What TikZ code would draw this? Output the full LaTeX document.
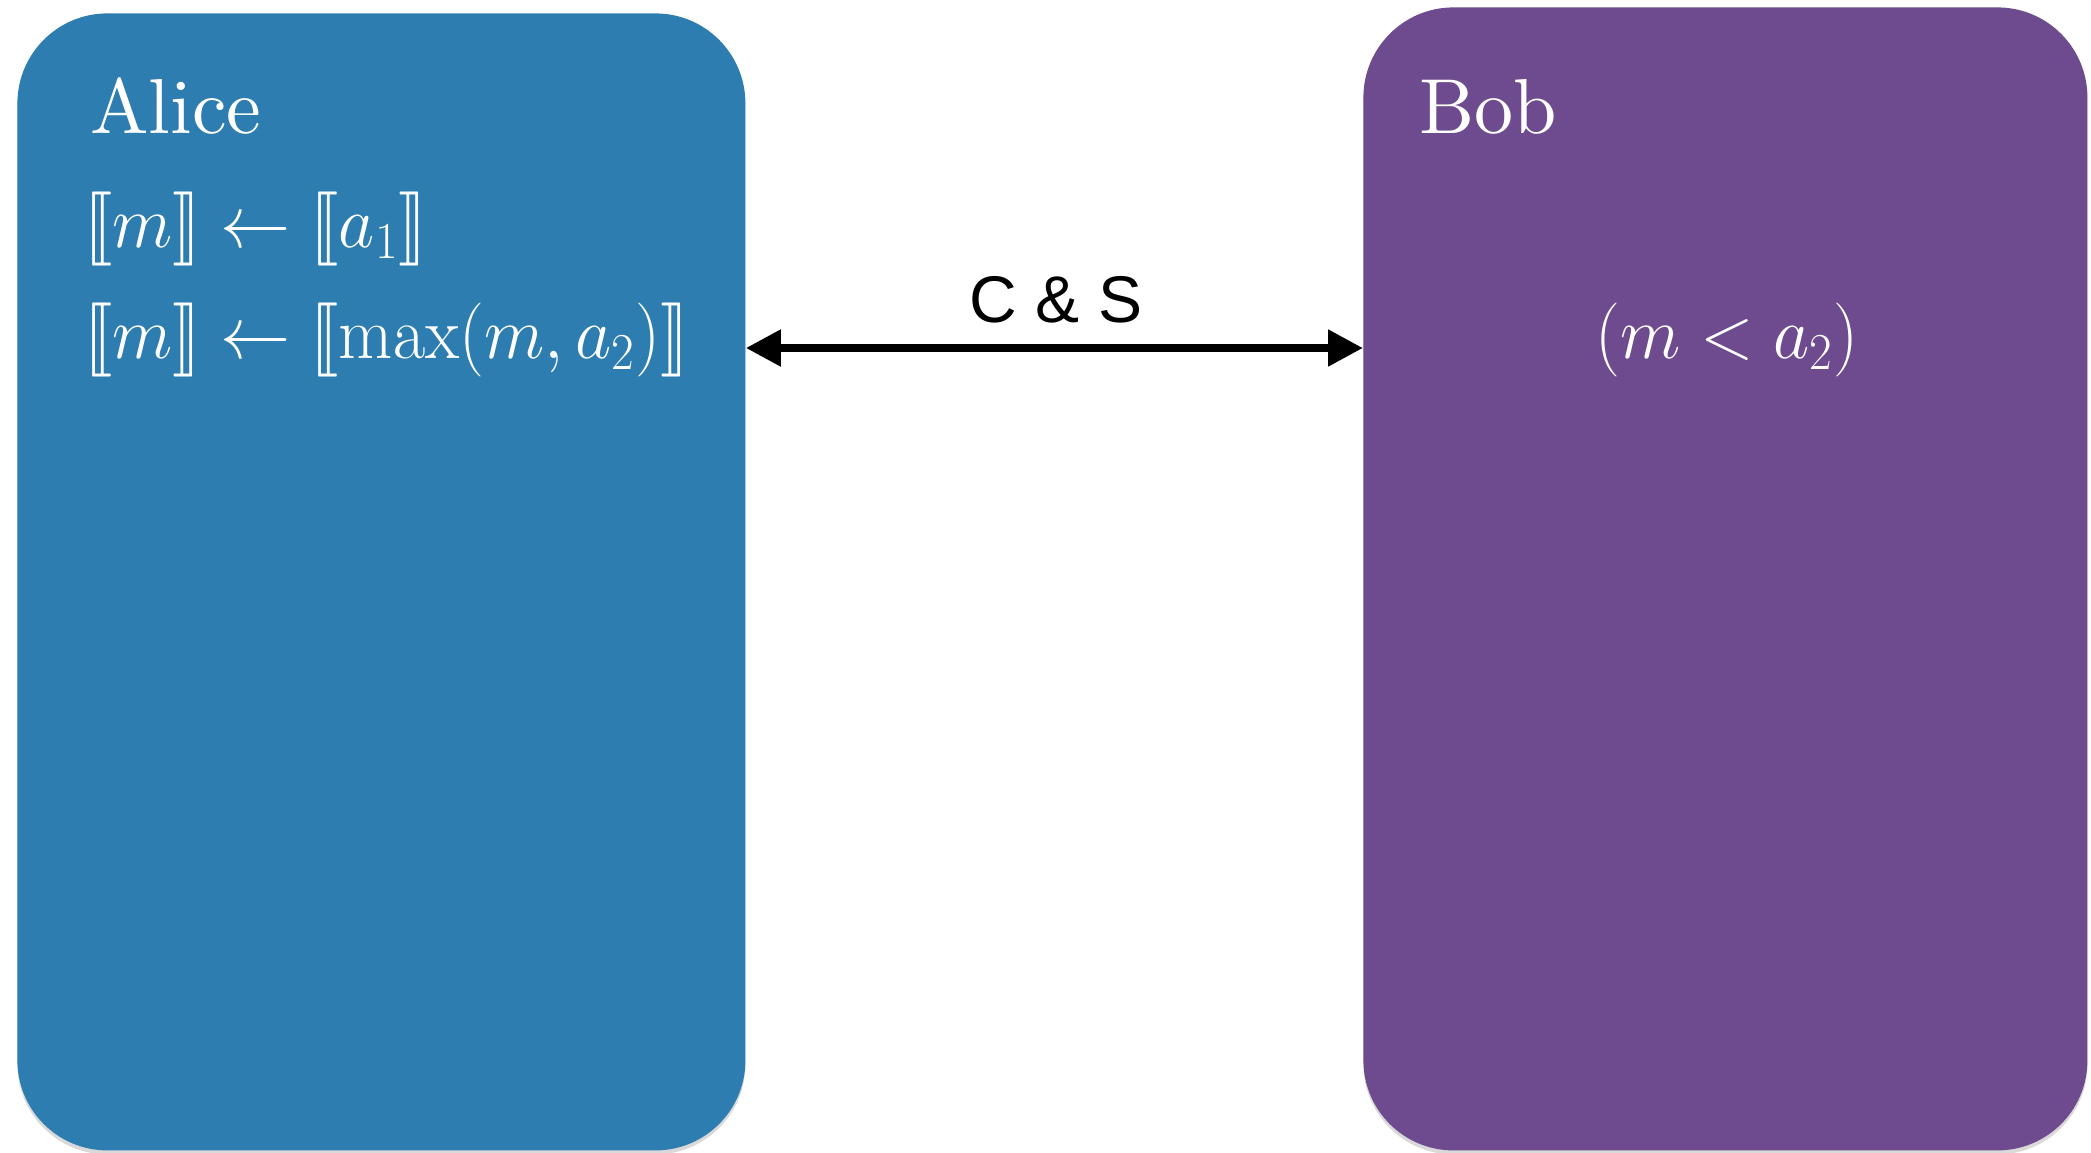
\RequirePackage{fix-cm}
\documentclass[tikz,border=0pt]{standalone}
\usepackage{fontspec}
% scalable double brackets at any size
\DeclareFontFamily{U}{stmry}{}
\DeclareFontShape{U}{stmry}{m}{n}{<-> stmary10}{}
\usepackage{stmaryrd}
\usepackage{graphicx}
\newfontfamily\labelfont{Liberation Sans}
\newfontfamily\namefont{lmroman10-regular}[Extension=.otf]
\usetikzlibrary{arrows.meta,shadows}
\definecolor{partyblue}{RGB}{46,125,176}
\definecolor{partypurple}{RGB}{110,74,142}
\newcommand{\formula}[1]{\scalebox{0.95}[1]{$#1$}}
\begin{document}
\begin{tikzpicture}[x=0.5pt,y=-0.5pt]
  \useasboundingbox (0,0) rectangle (2091,1152);
  \tikzset{
    party/.style={rectangle, rounded corners=45pt, inner sep=0pt, anchor=north west,
      drop shadow={opacity=0.3, shadow xshift=0pt, shadow yshift=-2pt}},
    partyname/.style={text=white, inner sep=0pt, anchor=base west,
      font=\namefont\fontsize{39}{47}\selectfont},
    txt/.style={text=white, inner sep=0pt, anchor=base west,
      font=\fontsize{37}{45}\selectfont},
    channel/.style={line width=4pt, {Triangle[length=17.5pt,width=17.5pt]}-{Triangle[length=17.5pt,width=17.5pt]}},
    chanlabel/.style={inner sep=0pt, anchor=base, font=\labelfont\fontsize{33}{40}\selectfont}
  }
  % the two parties
  \node[party, fill=partyblue, minimum width=364pt, minimum height=568.5pt] (alice) at (17,13) {};
  \node[party, fill=partypurple, minimum width=362pt, minimum height=571.5pt] (bob) at (1363,7) {};

  % Alice's side
  \node[partyname] (aliceName) at (90,133) {Alice};
  \node[txt] (aliceInit) at (84,247) {\formula{\llbracket m\rrbracket \leftarrow \llbracket a_1\rrbracket}};
  \node[txt] (aliceMax) at (84,358) {\formula{\llbracket m\rrbracket \leftarrow \llbracket \max(m, a_2)\rrbracket}};

  % Bob's side
  \node[partyname] (bobName) at (1419,133) {Bob};
  \node[txt, anchor=base] (bobCmp) at (1727,358) {\formula{(m < a_2)}};

  % compare-and-swap channel
  \coordinate (link) at (0,348);
  \draw[channel] (alice.east |- link) -- (bob.west |- link);
  \node[chanlabel] (cs) at (1056,322) {C \& S};
\end{tikzpicture}
\end{document}
